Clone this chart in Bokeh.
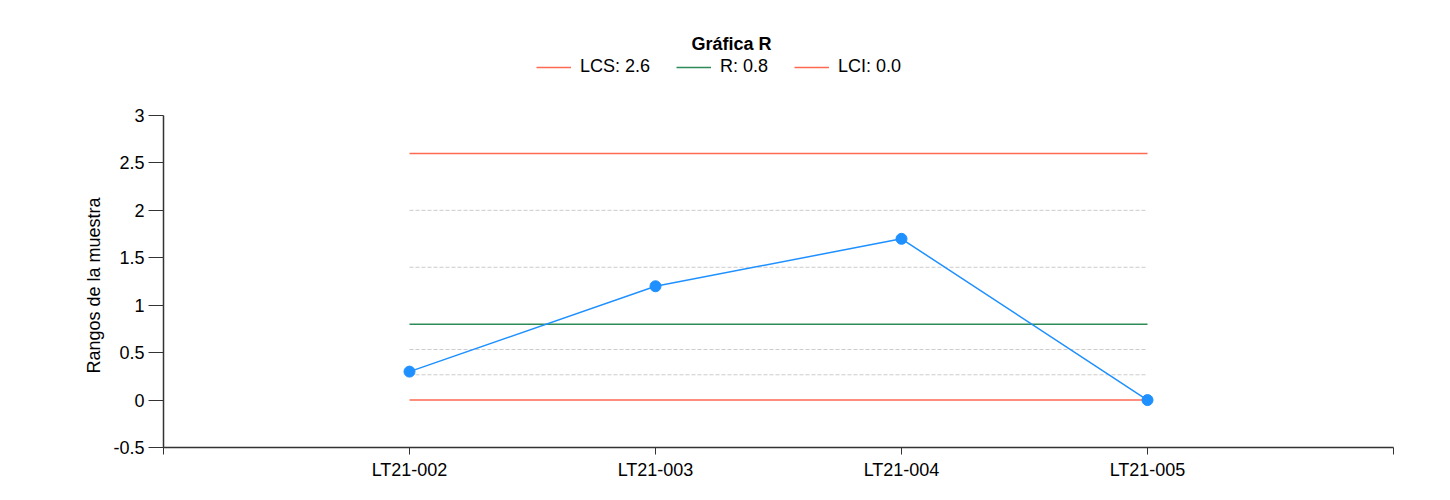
from bokeh.plotting import figure
from bokeh.models import Range1d, FixedTicker, Label, Legend, LegendItem, CustomJSTickFormatter, Title
from bokeh.embed import file_html
from bokeh.resources import INLINE

# ---- data ----
categories = ["LT21-002", "LT21-003", "LT21-004", "LT21-005"]
ranges = [0.3, 1.2, 1.7, 0.0]
lcs = 2.6
r_mean = 0.8
lci = 0.0
title_text = "Gráfica R"
y_label = "Rangos de la muestra"
y_ticks = [-0.5, 0, 0.5, 1, 1.5, 2, 2.5, 3]
y_min, y_max = -0.5, 3

FONT = "Liberation Sans"

xs = list(range(1, len(categories) + 1))
x_first, x_last = xs[0], xs[-1]

# sigma zone lines (1 and 2 sigma above / below the centre line)
up = (lcs - r_mean) / 3.0
dn = (r_mean - lci) / 3.0
zones = [r_mean + 2 * up, r_mean + up, r_mean - dn, r_mean - 2 * dn]

# layout (pixels)
W, H = 1440, 490
FR_LEFT, FR_RIGHT, FR_BOTTOM = 163, 1393, 447
AX_TOP = 115  # pixel where y_max sits; frame extends to top of canvas for title/legend
px_per_unit = (FR_BOTTOM - AX_TOP) / (y_max - y_min)
y_top = y_max + AX_TOP / px_per_unit

p = figure(width=W, height=H, output_backend="svg", toolbar_location=None,
           x_range=Range1d(0, len(categories) + 1), y_range=Range1d(y_min, y_top),
           min_border_left=FR_LEFT, min_border_right=W - FR_RIGHT, min_border_top=0,
           min_border_bottom=H - FR_BOTTOM)
p.title = None
p.outline_line_color = None
p.background_fill_color = "white"
p.border_fill_color = "white"
p.xgrid.visible = False
p.ygrid.visible = False

# zone lines
p.segment(x0=[x_first] * len(zones), x1=[x_last] * len(zones), y0=zones, y1=zones,
          line_color="#cccccc", line_width=1, line_dash="4 2")

# control limits
r_lcs = p.line([x_first, x_last], [lcs, lcs], line_color="#ff6a50", line_width=1.5)
r_r = p.line([x_first, x_last], [r_mean, r_mean], line_color="#2e8b57", line_width=1.5)
r_lci = p.line([x_first, x_last], [lci, lci], line_color="#ff6a50", line_width=1.5)

# data
p.line(xs, ranges, line_color="#1e90ff", line_width=1.5)
p.scatter(xs, ranges, size=11, fill_color="#1e90ff", line_color="#1e90ff")

# axes
xa = p.xaxis[0]
xa.ticker = FixedTicker(ticks=[0] + xs + [len(categories) + 1])
overrides = {0: "", len(categories) + 1: ""}
for x, c in zip(xs, categories):
    overrides[x] = c
xa.major_label_overrides = overrides
xa.minor_tick_line_color = None
xa.major_tick_in = 0
xa.major_tick_out = 7
xa.axis_line_color = "#333333"
xa.axis_line_width = 1.5
xa.major_tick_line_color = "#333333"
xa.major_label_text_font = FONT
xa.major_label_text_font_size = "18px"
xa.major_label_text_color = "black"
xa.major_label_standoff = 5

ya = p.yaxis[0]
ya.bounds = (y_min, y_max)
ya.ticker = FixedTicker(ticks=y_ticks)
ya.formatter = CustomJSTickFormatter(code="return tick.toString();")
ya.minor_tick_line_color = None
ya.major_tick_in = 0
ya.major_tick_out = 15
ya.axis_line_color = "#333333"
ya.axis_line_width = 1.5
ya.major_tick_line_color = "#333333"
ya.major_label_text_font = FONT
ya.major_label_text_font_size = "18px"
ya.major_label_text_color = "black"
ya.major_label_standoff = 4

# y-axis title, centred on the axis bounds (not the taller frame)
p.add_layout(Title(text=y_label, align="left", offset=74, standoff=14,
                   text_font=FONT, text_font_size="18px", text_font_style="normal",
                   text_color="black"), "left")

# chart title (screen units are relative to the frame's left / bottom)
p.add_layout(Label(x=731 - FR_LEFT, y=FR_BOTTOM - 43, x_units="screen", y_units="screen",
                   text=title_text, text_align="center", text_baseline="alphabetic",
                   text_font=FONT, text_font_size="18px", text_font_style="bold",
                   text_color="black"))

legend = Legend(items=[LegendItem(label=f"LCS: {lcs:.1f}", renderers=[r_lcs]),
                       LegendItem(label=f"R: {r_mean:.1f}", renderers=[r_r]),
                       LegendItem(label=f"LCI: {lci:.1f}", renderers=[r_lci])],
                location=(536 - FR_LEFT, FR_BOTTOM - 77), orientation="horizontal",
                spacing=26, glyph_width=35, glyph_height=20, label_height=20,
                label_standoff=9, padding=0, margin=0,
                border_line_color=None, background_fill_alpha=0,
                label_text_font=FONT, label_text_font_size="18px", label_text_color="black")
p.add_layout(legend)

open("out.html", "w").write(file_html(p, INLINE))
